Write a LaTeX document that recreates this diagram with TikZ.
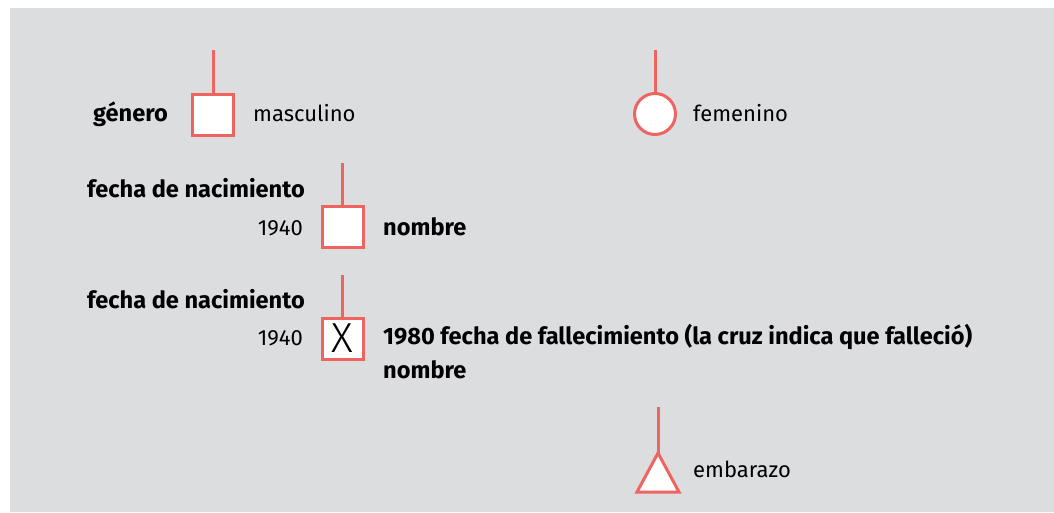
\documentclass[tikz,border=0pt]{standalone}
\usepackage{fontspec}
\setmainfont{Fira Sans}
\newfontfamily\duennschrift{Fira Sans Light}
\definecolor{hintergrund}{HTML}{DCDDDF}
\definecolor{linie}{HTML}{EF6460}
\tikzset{
	symbol/.style={draw=linie, line width=3pt, fill=white, inner sep=0pt, minimum size=41pt},
	strich/.style={draw=linie, line width=3pt},
	txt/.style={inner sep=0pt, font=\fontsize{22}{26}\selectfont},
	fett/.style={txt, font=\fontsize{23.6}{28}\selectfont\bfseries}
}
\begin{document}
\begin{tikzpicture}[x=1pt,y=-1pt]
	\useasboundingbox (0,0) rectangle (1054,512);
	% Hintergrund
	\fill [hintergrund] (10,8) rectangle (1054,512);
	%%%% Geschlecht
	\node [symbol, rectangle] (mann) at (213,114.5) {};
	\coordinate (mannoben) at (213,50);
	\draw [strich] (mannoben) -- (mann.north);
	\node [fett, anchor=base east] (genero) at (168,121) {género};
	\node [txt, anchor=base west] (masc) at (253,121) {masculino};
	\node [symbol, circle] (frau) at (655,114) {};
	\coordinate (frauoben) at (655,50);
	\draw [strich] (frauoben) -- (frau.north);
	\node [txt, anchor=base west] (fem) at (693,121) {femenino};
	%%%% Geburt
	\node [symbol, rectangle] (person) at (342.5,226.5) {};
	\coordinate (personoben) at (342.5,163);
	\draw [strich] (personoben) -- (person.north);
	\node [fett, anchor=base east] (geb1) at (305,197) {fecha de nacimiento};
	\node [txt, anchor=base east] (jahr1) at (303,235) {1940};
	\node [fett, anchor=base west] (name1) at (383,235) {nombre};
	%%%% Tod
	\node [symbol, rectangle, font=\fontsize{42}{42}\duennschrift] (tot) at (342.5,338.5) {X};
	\coordinate (totoben) at (342.5,275);
	\draw [strich] (totoben) -- (tot.north);
	\node [fett, anchor=base east] (geb2) at (305,308) {fecha de nacimiento};
	\node [txt, anchor=base east] (jahr2) at (303,345) {1940};
	\node [fett, anchor=base west] (tod) at (383,344) {1980 fecha de fallecimiento (la cruz indica que falleció)};
	\node [fett, anchor=base west] (name2) at (383,378) {nombre};
	%%%% Schwangerschaft
	\coordinate (spitze) at (658,453);
	\coordinate (schwoben) at (658,407);
	\draw [strich, fill=white, line join=miter] (spitze) -- (679,492) -- (637,492) -- cycle;
	\draw [strich] (schwoben) -- (spitze);
	\node [txt, anchor=base west] (emb) at (693,477) {embarazo};
\end{tikzpicture}
\end{document}
